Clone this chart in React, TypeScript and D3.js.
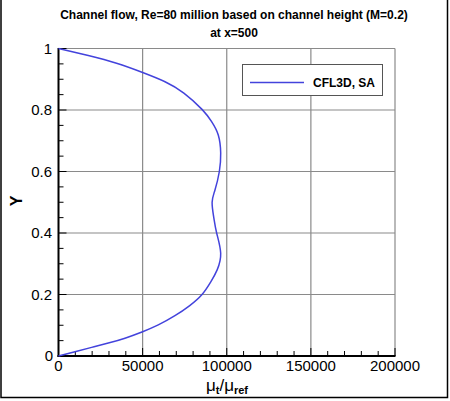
import * as React from "react";
import * as d3 from "d3";

// Y positions across the channel and the eddy-viscosity ratio
const yValues = [0, 0.014, 0.028, 0.042, 0.058, 0.079, 0.101, 0.131, 0.164, 0.2, 0.242, 0.28, 0.334, 0.4, 0.45, 0.5,
  0.54, 0.6, 0.66, 0.718, 0.762, 0.802, 0.855, 0.892, 0.922, 0.952, 0.977, 1.0];
const muValues = [0, 9800, 19700, 29600, 39500, 50000, 59300, 69200, 78000, 85300, 90600, 94300, 96400, 94000, 92300, 91300,
  93000, 95600, 96400, 95000, 91000, 85300, 74500, 63300, 50000, 34500, 17700, 0];

const xTicks = [0, 50000, 100000, 150000, 200000];
const yTicks = [0, 0.2, 0.4, 0.6, 0.8, 1];
const xMinor = d3.range(0, 200001, 10000);
const yMinor = d3.range(0, 1.0001, 0.05);

const seriesName = "CFL3D, SA";
const titleLines = ["Channel flow, Re=80 million based on channel height (M=0.2)", "at x=500"];

const W = 450;
const H = 401;
const left = 58.5;
const right = 395;
const top = 48.5;
const bottom = 356;

const App = () => {
  const x = d3.scaleLinear().domain([0, 200000]).range([left, right]);
  const y = d3.scaleLinear().domain([0, 1]).range([bottom, top]);

  const pts: [number, number][] = yValues.map((v, i) => [muValues[i], v]);
  const line = d3
    .line<[number, number]>()
    .x((d) => x(d[0]))
    .y((d) => y(d[1]))
    .curve(d3.curveNatural);

  const font = "'Liberation Sans', Arial, Helvetica, sans-serif";
  const blue = "#4343dc";

  return (
    <svg width={W} height={H} style={{ position: "fixed", left: 0, top: 0, background: "white" }} fontFamily={font}>
      <rect x={0} y={0} width={W} height={H} fill="white" />
      {/* outer frame */}
      <path d="M1,0 V397.5 H447.5 V0" fill="none" stroke="#000" strokeWidth={1.5} />

      {titleLines.map((t, i) => (
        <text key={i} x={234} y={19 + i * 18} textAnchor="middle" fontSize={12} fontWeight="bold">
          {t}
        </text>
      ))}

      {/* grid */}
      {xTicks.slice(1).map((t) => (
        <line key={"gx" + t} x1={x(t)} x2={x(t)} y1={top} y2={bottom} stroke="#8a8a8a" strokeWidth={1.2} />
      ))}
      {yTicks.slice(1).map((t) => (
        <line key={"gy" + t} x1={left} x2={right} y1={y(t)} y2={y(t)} stroke="#8a8a8a" strokeWidth={1.2} />
      ))}

      {/* minor and major ticks, pointing inward */}
      {xMinor.map((t) => (
        <line key={"mx" + t} x1={x(t)} x2={x(t)} y1={bottom} y2={bottom - (t % 50000 === 0 ? 8 : 5)} stroke="#000" strokeWidth={1} />
      ))}
      {yMinor.map((t) => (
        <line key={"my" + t} x1={left} x2={left + (Math.abs(t * 5 - Math.round(t * 5)) < 1e-6 ? 8 : 5)} y1={y(t)} y2={y(t)} stroke="#000" strokeWidth={1} />
      ))}

      {/* axes */}
      <line x1={left} x2={left} y1={top - 0.5} y2={bottom + 1} stroke="#000" strokeWidth={2} />
      <line x1={left - 1} x2={right + 0.5} y1={bottom} y2={bottom} stroke="#000" strokeWidth={2} />

      {/* tick labels */}
      {xTicks.map((t) => (
        <text key={"tx" + t} x={x(t)} y={371} textAnchor="middle" fontSize={15}>
          {t}
        </text>
      ))}
      {yTicks.map((t) => (
        <text key={"ty" + t} x={t === 0 ? 53 : 52} y={y(t) + 5} textAnchor="end" fontSize={15}>
          {t === 0 || t === 1 ? String(t) : t.toFixed(1)}
        </text>
      ))}

      {/* axis titles */}
      <text x={227} y={391} textAnchor="middle" fontSize={17}>
        μ
        <tspan fontSize={11} fontWeight="bold" dy={3}>t</tspan>
        <tspan dy={-3}>/μ</tspan>
        <tspan fontSize={11} fontWeight="bold" dy={3}>ref</tspan>
      </text>
      <text transform="translate(22,201) rotate(-90)" textAnchor="middle" fontSize={16} fontWeight="bold">
        Y
      </text>

      {/* curve */}
      <path d={line(pts) || ""} fill="none" stroke={blue} strokeWidth={1.5} />

      {/* legend */}
      <rect x={242.5} y={64.5} width={140} height={31} fill="white" stroke="#555" strokeWidth={1} />
      <line x1={250} x2={304} y1={82.5} y2={82.5} stroke={blue} strokeWidth={1.5} />
      <text x={313} y={87} fontSize={12} fontWeight="bold">
        {seriesName}
      </text>
    </svg>
  );
};

export default App;
